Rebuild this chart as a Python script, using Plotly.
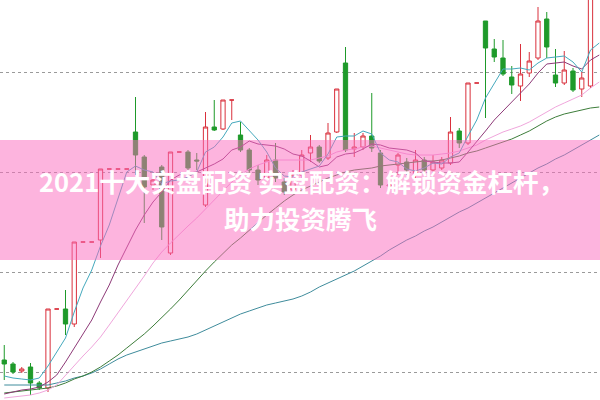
import plotly.graph_objects as go

# Candle data (price units), one entry per trading day
opens  = [40,36,29,33,17,12,91,91,76,158,158,160,231,231,231,268,243,215,233,147,248,248,240,195,273,271,300,265,250,230,
          222,240,218,210,225,247,253,242,268,337,251,253,264,247,214,235,238,225,240,230,232,237,269,257,317,379,351,342,323,314,
          327,342,381,325,317,329,311,314]
highs  = [55,38,33,37,19,91,91,110,158,158,158,231,231,231,231,303,245,225,235,248,248,250,247,288,300,300,300,278,252,235,
          245,257,222,230,250,265,255,277,311,353,267,267,307,250,215,247,242,250,243,245,243,283,272,317,317,379,361,360,334,356,
          348,393,388,351,349,332,328,430]
lows   = [20,26,27,5,10,8,91,65,73,158,158,142,231,231,231,225,177,210,160,145,248,228,230,193,269,270,280,248,225,215,
          220,218,205,207,222,238,237,240,267,248,243,250,248,212,212,225,225,222,228,228,230,235,252,255,317,282,338,324,306,299,
          323,340,342,313,315,308,303,312]
closes = [36,28,31,17,12,91,91,76,158,158,158,231,231,231,231,245,213,220,173,248,248,232,239,273,270,300,300,250,230,220,
          240,222,208,225,245,253,239,267,311,250,253,264,252,215,215,245,230,240,230,238,240,268,257,317,317,352,343,326,315,326,
          339,379,353,317,330,310,322,420]

# Moving averages (one more day than the visible candles)
ma5  = [24,22,21,20,22,34,48,62,88,112,130,154,175,202,228,234,230,228,216,219,220,223,228,248,253,263,277,279,270,260,
        248,232,224,223,228,231,234,246,263,264,264,269,266,247,240,238,231,229,232,237,236,243,247,264,280,302,317,331,331,332,
        330,337,342,343,344,338,328,350,357]
ma10 = [6,8,10,11,13,18,25,38,52,65,80,98,115,135,153,170,185,198,208,220,225,227,228,232,236,241,250,253,259,256,
        255,254,251,246,244,239,233,235,243,246,247,251,256,255,252,251,250,247,239,238,237,237,238,248,258,269,280,289,297,306,
        316,327,336,337,338,334,331,340,345]
ma20 = [2,3,4,5,7,10,15,25,35,44,53,63,75,87,100,112,124,137,148,157,166,174,182,191,200,209,218,225,231,235,
        238,240,240,240,240,240,242,244,248,250,251,253,254,252,250,248,246,245,245,245,246,247,249,252,255,260,264,268,271,274,
        278,283,288,293,297,301,305,312,318]
ma30 = [7,8,9,10,11,12,14,17,21,24,28,33,39,45,52,59,66,74,82,91,100,110,120,129,138,147,155,162,170,178,
        185,192,199,205,210,214,218,222,225,228,230,231,232,234,235,236,237,238,239,239,240,242,244,247,249,252,255,258,261,265,
        269,274,279,283,286,288,290,292,293]
ma60 = [15,15,15,15,15,15,17,19,22,24,27,31,36,41,45,48,51,54,57,59,61,63,66,70,74,78,82,86,89,92,
        95,97,99,101,104,108,113,117,121,125,129,134,139,144,150,155,160,164,169,173,178,183,188,192,197,202,207,212,217,222,
        227,232,236,241,245,250,255,260,265]

days = list(range(len(opens)))
ma_days = list(range(len(ma5)))

title_line1 = "2021十大实盘配资 实盘配资：解锁资金杠杆，"
title_line2 = "助力投资腾飞"

fig = go.Figure()
fig.add_trace(go.Candlestick(
    x=days, open=opens, high=highs, low=lows, close=closes,
    increasing=dict(line=dict(color="#d9303c", width=1), fillcolor="#ffffff"),
    decreasing=dict(line=dict(color="#1e9a2a", width=1), fillcolor="#1e9a2a"),
    whiskerwidth=0, showlegend=False, hoverinfo="skip",
))

ma_styles = [
    (ma60, "#3f8c9c"),
    (ma30, "#3d7d3a"),
    (ma20, "#f0a6dc"),
    (ma10, "#8e3a78"),
    (ma5,  "#45a9bd"),
]
for vals, col in ma_styles:
    fig.add_trace(go.Scatter(x=ma_days, y=vals, mode="lines",
                             line=dict(color=col, width=1), showlegend=False, hoverinfo="skip"))

fig.add_shape(type="rect", xref="paper", yref="paper", x0=0, x1=1, y0=0.35, y1=0.65,
              fillcolor="rgba(251,105,189,0.5)", line=dict(width=0), layer="above")

fig.add_annotation(text=title_line1, xref="paper", yref="paper", x=0.503, y=0.548,
                   showarrow=False, xanchor="center", yanchor="middle",
                   font=dict(family="Noto Sans CJK SC", size=25.5, color="white", weight="bold"))
fig.add_annotation(text=title_line2, xref="paper", yref="paper", x=0.5, y=0.457,
                   showarrow=False, xanchor="center", yanchor="middle",
                   font=dict(family="Noto Sans CJK SC", size=25.5, color="white", weight="bold"))

fig.update_layout(
    width=600, height=400, margin=dict(l=0, r=0, t=0, b=0),
    paper_bgcolor="white", plot_bgcolor="white",
    xaxis=dict(range=[-0.486, 68.086], showgrid=False, zeroline=False, showticklabels=False,
               rangeslider=dict(visible=False), fixedrange=True),
    yaxis=dict(range=[0, 400], showgrid=True, gridcolor="#9a9a9a", griddash="dot", gridwidth=1,
               tick0=28, dtick=100, zeroline=False, showticklabels=False, fixedrange=True),
)

fig.write_html("out.html", config={"displayModeBar": False},
               post_script="document.body.style.margin='0px';")
